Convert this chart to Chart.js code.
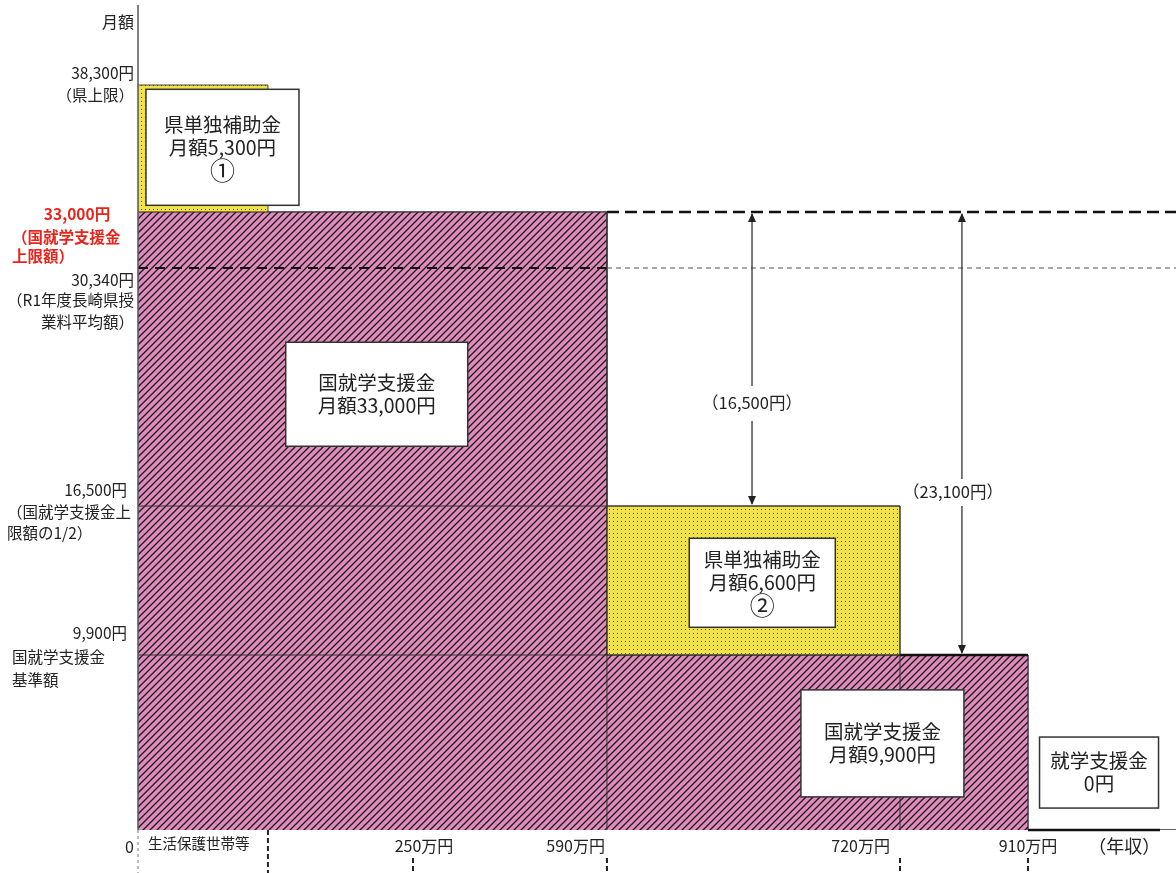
<!DOCTYPE html>
<html>
<head>
<meta charset="utf-8">
<script src="https://cdn.jsdelivr.net/npm/chart.js@4.4.0/dist/chart.umd.min.js"></script>
<style>
  html, body { margin: 0; padding: 0; background: #fff; }
  #wrap { width: 1176px; height: 873px; }
</style>
</head>
<body>
<div id="wrap"><canvas id="myChart"></canvas></div>
<script>
// 年収の区切り（横軸）
const incomeTicks = ['0', '生活保護世帯等', '250万円', '590万円', '720万円', '910万円', '（年収）']
// 区分ごとの月額（円）
const kokuAmounts = [33000, 33000, 33000, 9900, 9900, 0]   // 国就学支援金
const prefAmounts = [5300, 0, 0, 6600, 0, 0]              // 県単独補助金
// 縦軸の目盛り（円）
const prefMax = 38300
const kokuMax = 33000
const avgTuition = 30340
const halfMax = 16500
const kokuBase = 9900
// 矢印の差額
const gapAmounts = [16500, 23100]

const FONT = '"Noto Sans CJK JP", "Noto Sans", sans-serif'

// 模式図なので軸は等間隔ではない
const axisStops = {
    x: { values: [0, 1, 2, 3, 4, 5, 6], at: [0, 0.1252, 0.2649, 0.4518, 0.7341, 0.8574, 1] },
    y: { values: [0, 9900, 16500, 30340, 33000, 38300, 44000], at: [0, 0.2121, 0.3927, 0.6812, 0.7491, 0.9030, 1] }
}

const interp = (v, xs, ys) => {
    if (v <= xs[0]) return ys[0]
    for (let i = 1; i < xs.length; i++) {
        if (v <= xs[i]) return ys[i - 1] + (v - xs[i - 1]) / (xs[i] - xs[i - 1]) * (ys[i] - ys[i - 1])
    }
    return ys[ys.length - 1]
}

class SchematicScale extends Chart.LinearScale {
    static id = 'schematic'
    static defaults = Chart.LinearScale.defaults
    getPixelForValue(value) {
        if (value === null || value === undefined) return NaN
        const s = axisStops[this.id]
        return this.getPixelForDecimal(interp(value, s.values, s.at))
    }
    getValueForPixel(pixel) {
        const s = axisStops[this.id]
        return interp(this.getDecimalForPixel(pixel), s.at, s.values)
    }
}
Chart.register(SchematicScale)

// 模様
const makeHatch = () => {
    const c = document.createElement('canvas')
    c.width = 7; c.height = 7
    const g = c.getContext('2d')
    g.fillStyle = '#e08bbb'
    g.fillRect(0, 0, 7, 7)
    g.strokeStyle = '#1b1b1b'
    g.lineWidth = 1.35
    g.beginPath()
    g.moveTo(-1, 8); g.lineTo(8, -1)
    g.moveTo(-1, 1); g.lineTo(1, -1)
    g.moveTo(6, 8); g.lineTo(8, 6)
    g.stroke()
    return g.createPattern(c, 'repeat')
}

const makeDots = () => {
    const c = document.createElement('canvas')
    c.width = 4; c.height = 4
    const g = c.getContext('2d')
    g.fillStyle = '#f2e24a'
    g.fillRect(0, 0, 4, 4)
    g.fillStyle = '#4e4826'
    g.fillRect(1, 1, 1, 1)
    return g.createPattern(c, 'repeat')
}

const stepPoints = (amounts) => {
    const pts = amounts.map((v, i) => ({ x: i, y: v }))
    pts.push({ x: amounts.length, y: amounts[amounts.length - 1] })
    return pts
}

const totalAmounts = kokuAmounts.map((v, i) => v + prefAmounts[i])

const data = {
    datasets: [{
        label: '国就学支援金',
        data: stepPoints(kokuAmounts),
        stepped: 'before',
        fill: 'origin',
        backgroundColor: makeHatch(),
        borderColor: '#222',
        borderWidth: 1,
        pointRadius: 0
    },
    {
        label: '県単独補助金',
        data: stepPoints(totalAmounts),
        stepped: 'before',
        fill: 'origin',
        backgroundColor: makeDots(),
        borderColor: '#444',
        borderWidth: 1,
        pointRadius: 0
    }]
}

// 注記の配置
const boxes = [
    { x: 0.65, y: 35700, w: 153, h: 116, lines: ['県単独補助金', '月額5,300円', '①'] },
    { x: 1.75, y: 23000, w: 182, h: 104, lines: ['国就学支援金', '月額33,000円'] },
    { x: 3.53, y: 13100, w: 146, h: 89, lines: ['県単独補助金', '月額6,600円', '②'] },
    { x: 3.94, y: 4900, w: 163, h: 107, lines: ['国就学支援金', '月額9,900円'] },
    { x: 5.48, y: 3250, w: 119, h: 71, lines: ['就学支援金', '0円'] }
]

const yLabels = [
    { v: prefMax, color: '#222', bold: false, lines: [
        ['38,300円', -12, 'right', 134], ['（県上限）', 10, 'right', 134]] },
    { v: kokuMax, color: '#e8251c', bold: true, lines: [
        ['33,000円', 2, 'center', 77], ['（国就学支援金', 25, 'left', 12], ['上限額）', 44, 'left', 12]] },
    { v: avgTuition, color: '#222', bold: false, lines: [
        ['30,340円', 12, 'right', 134], ['（R1年度長崎県授', 32, 'right', 134], ['業料平均額）', 54, 'right', 134]] },
    { v: halfMax, color: '#222', bold: false, lines: [
        ['16,500円', -16, 'right', 127], ['（国就学支援金上', 6, 'left', 7], ['限額の1/2）', 27, 'left', 7]] },
    { v: kokuBase, color: '#222', bold: false, lines: [
        ['9,900円', -22, 'right', 127], ['国就学支援金', 2, 'left', 12], ['基準額', 25, 'left', 12]] }
]

const line = (ctx, x1, y1, x2, y2, color, width, dash = []) => {
    ctx.save()
    ctx.strokeStyle = color
    ctx.lineWidth = width
    ctx.setLineDash(dash)
    ctx.beginPath()
    ctx.moveTo(x1, y1)
    ctx.lineTo(x2, y2)
    ctx.stroke()
    ctx.restore()
}

const head = (ctx, x, y, dir) => {
    ctx.beginPath()
    ctx.moveTo(x, y)
    ctx.lineTo(x - 4, y - dir * 9)
    ctx.lineTo(x + 4, y - dir * 9)
    ctx.closePath()
    ctx.fill()
}

const text = (ctx, t, x, y, size, align = 'center', color = '#222', bold = false) => {
    ctx.font = `${bold ? 'bold ' : ''}${size}px ${FONT}`
    ctx.fillStyle = color
    ctx.textAlign = align
    ctx.textBaseline = 'middle'
    ctx.fillText(t, x, y)
}

const diagramPlugin = {
    id: 'diagram',
    afterDatasetsDraw(chart) {
        const { ctx, chartArea: area, scales: { x, y } } = chart
        const px = v => x.getPixelForValue(v)
        const py = v => y.getPixelForValue(v)
        const bottom = chart.height

        // 基準線
        line(ctx, px(3), py(kokuMax), area.right, py(kokuMax), '#111', 2.5, [12, 6])
        line(ctx, px(0), py(avgTuition), px(3), py(avgTuition), '#111', 2, [10, 7])
        line(ctx, px(3), py(avgTuition), area.right, py(avgTuition), '#8a8a8a', 1.5, [5, 4])
        line(ctx, px(0), py(halfMax), px(3), py(halfMax), '#333', 1)
        line(ctx, px(3), py(halfMax), px(4), py(halfMax), '#333', 1)
        line(ctx, px(0), py(kokuBase), px(4), py(kokuBase), '#333', 1)
        line(ctx, px(4), py(kokuBase), px(5), py(kokuBase), '#111', 2.5)
        line(ctx, px(3), py(kokuMax), px(3), py(0), '#333', 1)
        line(ctx, px(4), py(halfMax), px(4), py(0), '#333', 1)
        line(ctx, px(5), py(0), area.right - 16, py(0), '#111', 2.5)

        // 縦軸
        line(ctx, px(0), area.top, px(0), area.bottom, '#555', 1.5)
        line(ctx, px(0), area.bottom, px(0), bottom, '#777', 1, [3, 3])
        line(ctx, px(1), area.bottom, px(1), bottom, '#222', 2, [5, 3])
        for (let i = 2; i <= 5; i++) {
            line(ctx, px(i), area.bottom + 28, px(i), bottom, '#222', 2, [5, 3])
        }

        // 注記ボックス
        boxes.forEach(b => {
            const cx = px(b.x), cy = py(b.y)
            ctx.fillStyle = '#fff'
            ctx.fillRect(cx - b.w / 2, cy - b.h / 2, b.w, b.h)
            ctx.strokeStyle = '#333'
            ctx.lineWidth = 1.5
            ctx.strokeRect(cx - b.w / 2, cy - b.h / 2, b.w, b.h)
            const start = cy - (b.lines.length - 1) * 23 / 2
            b.lines.forEach((t, k) => {
                const circled = t === '①' || t === '②'
                text(ctx, t, cx, start + k * 23, circled ? 25 : 19.5)
            })
        })

        // 差額の矢印
        const arrows = [
            { x: 3.495, from: kokuMax, to: kokuMax - gapAmounts[0], labelY: 403, gap: [386, 421], lx: 752 },
            { x: 4.484, from: kokuMax, to: kokuMax - gapAmounts[1], labelY: 492, gap: [479, 506], lx: 953 }
        ]
        arrows.forEach((a, k) => {
            const ax = px(a.x), y1 = py(a.from), y2 = py(a.to)
            line(ctx, ax, y1 + 2, ax, a.gap[0], '#333', 1.3)
            line(ctx, ax, a.gap[1], ax, y2 - 2, '#333', 1.3)
            ctx.fillStyle = '#222'
            head(ctx, ax, y1 + 1, -1)
            head(ctx, ax, y2 - 1, 1)
            text(ctx, '（' + gapAmounts[k].toLocaleString('en-US') + '円）', a.lx, a.labelY, 16.5)
        })

        // 縦軸ラベル
        text(ctx, '月額', 134, 22, 16, 'right')
        yLabels.forEach(l => {
            const base = py(l.v)
            l.lines.forEach(([t, dy, align, lx]) => text(ctx, t, lx, base + dy, 15.5, align, l.color, l.bold))
        })

        // 横軸ラベル
        const ly = area.bottom + 16
        text(ctx, incomeTicks[0], px(0) - 4, ly + 1, 16, 'right')
        text(ctx, incomeTicks[1], px(0) + 10, ly - 3, 14.5, 'left')
        text(ctx, incomeTicks[2], px(2) + 11, ly, 16, 'center')
        text(ctx, incomeTicks[3], px(3) - 2, ly, 16, 'right')
        text(ctx, incomeTicks[4], px(4) - 10, ly, 16, 'right')
        text(ctx, incomeTicks[5], px(5), ly, 16, 'center')
        text(ctx, incomeTicks[6], px(5.65), ly, 18, 'center')
    }
}

const config = {
    type: 'line',
    data: data,
    plugins: [diagramPlugin],
    options: {
        responsive: true,
        maintainAspectRatio: false,
        animation: false,
        layout: { padding: { left: 138, top: 5, right: 0, bottom: 43 } },
        scales: {
            x: { type: 'schematic', min: 0, max: 6, display: false },
            y: { type: 'schematic', min: 0, max: 44000, display: false }
        },
        plugins: {
            legend: { display: false },
            tooltip: { enabled: false }
        }
    }
}

const myChart = new Chart(document.getElementById('myChart'), config)
</script>
</body>
</html>
